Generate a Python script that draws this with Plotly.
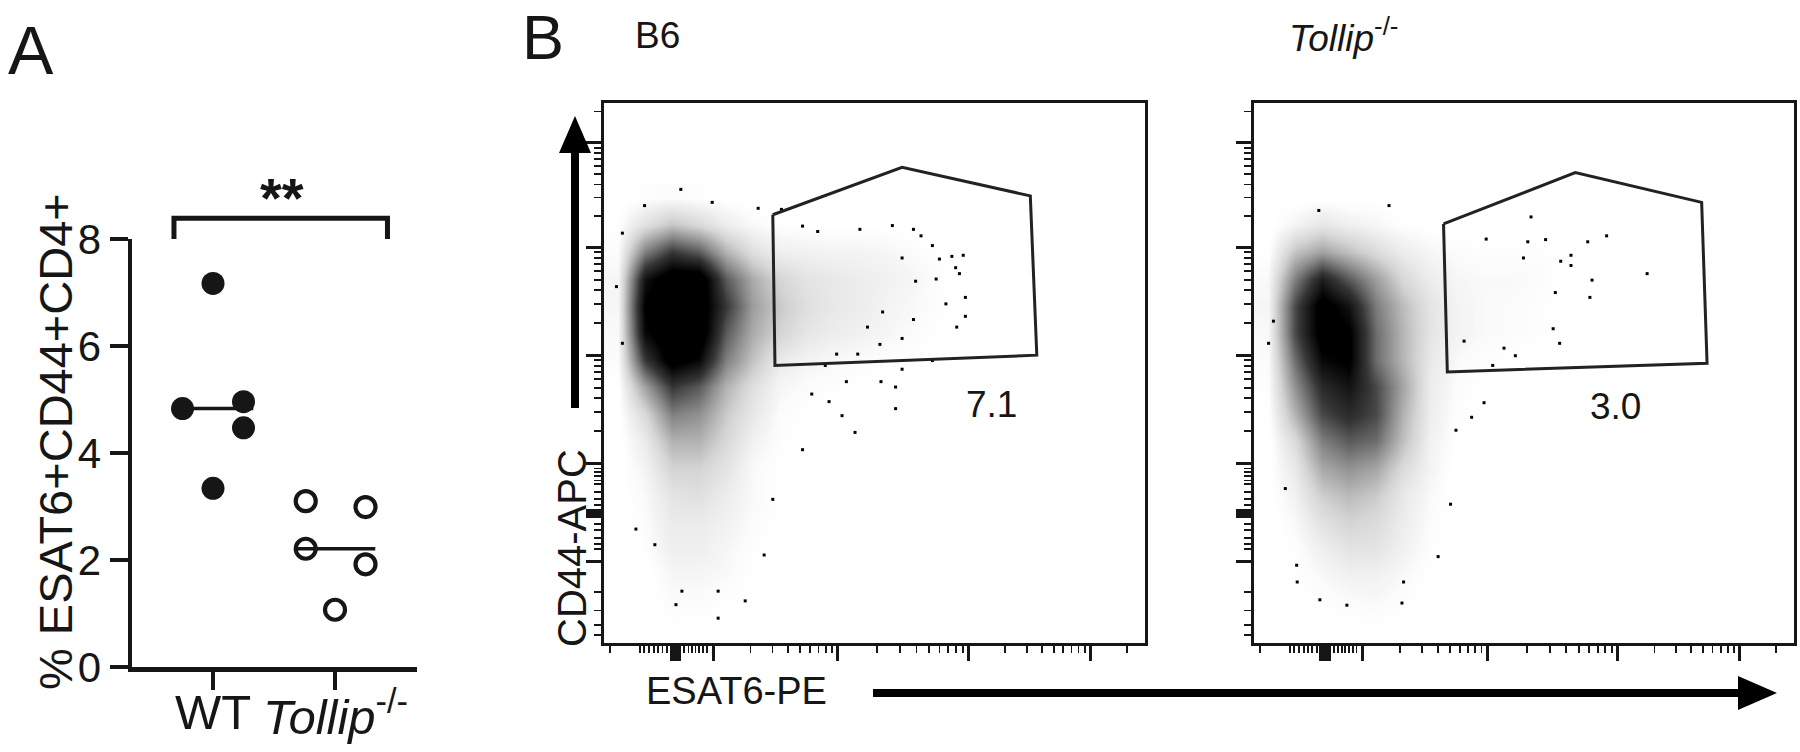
import math
import statistics
import plotly.graph_objects as go

W, H = 1800, 752
INK = "#161616"
FONT = "Liberation Sans, Arial, Helvetica, sans-serif"


def px(x):
    return x / W


def py(y):
    return 1 - y / H


# ---------------- Panel A data ----------------
group_labels = ["WT", "<i>Tollip</i><sup>-/-</sup>"]
group_pos = [1, 2]
wt_values = [7.17, 4.83, 4.96, 4.47, 3.34]
wt_offsets = [0.0, -0.25, 0.25, 0.25, 0.0]
tollip_values = [3.10, 2.99, 2.21, 1.92, 1.07]
tollip_offsets = [-0.24, 0.25, -0.24, 0.25, 0.0]
median_halfwidth = 0.33
sig_text = "**"
sig_pos = (1.566, 8.78)
bracket_x = [0.68, 2.43]
bracket_y = [8.0, 8.39]

# ---------------- Panel B data (display units 0-100 on each axis) ----------------
cell = 5.0
left_density = [
    [0, 0, 0.1, 0.05, 0, 0, 0, 0, 0, 0, 0, 0, 0, 0],
    [0, 0, 0.3, 0.3, 0.15, 0.05, 0, 0, 0, 0, 0, 0, 0, 0],
    [0, 0, 0.5, 0.5, 0.4, 0.1, 0, 0, 0, 0, 0, 0, 0, 0],
    [0, 0.2, 0.8, 0.8, 0.5, 0.2, 0, 0, 0, 0, 0, 0, 0, 0],
    [0, 0.3, 1.0, 1.0, 0.7, 0.3, 0.1, 0, 0, 0, 0, 0, 0, 0],
    [0, 0.4, 1.3, 1.5, 0.9, 0.4, 0.1, 0, 0, 0, 0, 0, 0, 0],
    [0, 0.6, 2.0, 2.0, 1.3, 0.4, 0.1, 0, 0, 0, 0, 0, 0, 0],
    [0, 1.0, 3.0, 3.0, 1.8, 0.7, 0.2, 0.1, 0, 0, 0, 0, 0, 0],
    [0, 1.8, 4.5, 4.0, 2.3, 1.1, 0.3, 0.1, 0, 0, 0, 0, 0, 0],
    [0.1, 3.5, 6.5, 5.5, 3.0, 1.5, 0.5, 0.3, 0.2, 0.1, 0, 0, 0, 0],
    [0.3, 6.5, 9.5, 8.5, 4.5, 2.5, 1.0, 0.6, 0.4, 0.3, 0.2, 0.1, 0, 0],
    [0.4, 8.5, 10, 10, 5.5, 3.2, 2.0, 1.2, 0.9, 0.7, 0.5, 0.3, 0.1, 0],
    [0.5, 9.0, 10, 10, 6.5, 3.6, 2.3, 1.5, 1.1, 0.9, 0.6, 0.4, 0.2, 0],
    [0.5, 8.0, 10, 10, 5.5, 3.2, 1.9, 1.3, 1.1, 0.9, 0.7, 0.5, 0.2, 0],
    [0.3, 4.5, 6.5, 5.5, 3.0, 1.5, 0.8, 0.7, 0.6, 0.6, 0.5, 0.3, 0.1, 0],
    [0.1, 1.5, 2.5, 1.8, 0.9, 0.4, 0.2, 0.1, 0.1, 0.1, 0.1, 0, 0, 0],
    [0, 0.2, 0.3, 0.2, 0.1, 0, 0, 0, 0, 0, 0, 0, 0, 0],
]
right_density = [
    [0, 0, 0, 0.05, 0.05, 0, 0, 0, 0, 0, 0, 0, 0, 0],
    [0, 0, 0.2, 0.3, 0.4, 0.2, 0, 0, 0, 0, 0, 0, 0, 0],
    [0, 0.1, 0.4, 0.7, 0.7, 0.4, 0.1, 0, 0, 0, 0, 0, 0, 0],
    [0, 0.2, 0.8, 1.3, 1.3, 0.7, 0.2, 0, 0, 0, 0, 0, 0, 0],
    [0, 0.4, 1.4, 2.0, 1.7, 0.9, 0.3, 0, 0, 0, 0, 0, 0, 0],
    [0, 0.7, 2.2, 2.8, 2.3, 1.1, 0.4, 0, 0, 0, 0, 0, 0, 0],
    [0, 1.1, 3.3, 4.0, 3.4, 1.7, 0.6, 0, 0, 0, 0, 0, 0, 0],
    [0, 1.7, 4.5, 5.5, 5.0, 2.6, 0.7, 0.1, 0, 0, 0, 0, 0, 0],
    [0.1, 3.0, 6.0, 7.0, 6.0, 3.0, 0.9, 0.2, 0, 0, 0, 0, 0, 0],
    [0.2, 4.0, 7.0, 8.0, 6.0, 3.4, 0.9, 0.3, 0.1, 0, 0, 0, 0, 0],
    [0.3, 5.0, 8.5, 9.0, 5.0, 2.9, 1.1, 0.4, 0.2, 0.1, 0.1, 0, 0, 0],
    [0.4, 6.0, 9.5, 9.0, 5.0, 2.9, 1.3, 0.6, 0.4, 0.3, 0.2, 0.1, 0, 0],
    [0.5, 6.0, 9.5, 8.0, 4.6, 2.7, 1.3, 0.6, 0.4, 0.3, 0.2, 0.1, 0.05, 0],
    [0.4, 4.5, 7.5, 5.5, 3.6, 1.8, 0.9, 0.5, 0.4, 0.4, 0.3, 0.1, 0.05, 0],
    [0.1, 2.5, 3.5, 2.6, 1.7, 0.9, 0.5, 0.3, 0.2, 0.2, 0.2, 0.1, 0, 0],
    [0, 0.6, 1.2, 0.8, 0.5, 0.2, 0.1, 0, 0, 0, 0.05, 0, 0, 0],
    [0, 0, 0.1, 0, 0.1, 0, 0, 0, 0, 0, 0, 0, 0, 0],
]

# isolated events
left_dots_x = [14.2, 20.0, 7.5, 28.5, 32.8, 36.7, 39.5, 47.3, 53.3, 57.2, 58.6, 60.7, 64.3, 66.4,
               62.0, 65.0, 65.7, 66.8, 66.8, 65.2, 63.2, 61.4, 57.6, 55.1, 57.2, 55.1, 51.0, 51.5,
               48.7, 46.9, 43.0, 40.9, 44.8, 51.2, 53.9, 55.1, 60.7, 53.9, 44.0, 46.4, 38.4, 41.6,
               36.7, 31.2, 29.6, 26.1, 21.1, 13.3, 14.4, 21.1, 5.9, 9.4, 3.4, 2.3, 3.4]
left_dots_y = [84.0, 81.6, 81.0, 80.5, 80.3, 77.2, 76.2, 76.6, 77.3, 76.6, 75.4, 73.6, 71.6, 71.8,
               71.1, 69.5, 68.4, 64.0, 60.5, 58.5, 62.8, 67.4, 67.0, 71.3, 59.9, 56.4, 55.3, 61.3,
               58.5, 53.5, 53.5, 51.4, 48.4, 48.4, 47.4, 50.7, 52.3, 43.4, 42.1, 39.0, 46.1, 44.7,
               35.8, 26.6, 16.3, 7.8, 4.6, 7.1, 9.6, 9.6, 21.1, 18.2, 55.5, 66.0, 75.9]
right_dots_x = [25.0, 12.0, 51.3, 65.3, 61.8, 58.7, 56.8, 72.8, 62.6, 62.2, 58.7, 54.0, 50.7, 55.8,
                55.4, 56.6, 48.4, 42.6, 40.3, 37.4, 36.4, 34.1, 27.7, 27.4, 17.2, 12.2, 8.0, 7.9,
                5.8, 2.7, 3.6, 38.9, 44.2, 46.3, 49.9, 43.0]
right_dots_y = [81.0, 80.1, 78.9, 75.4, 74.3, 71.8, 70.7, 68.4, 67.2, 64.0, 69.9, 74.7, 74.3, 64.9,
                58.2, 55.5, 53.2, 44.5, 41.8, 39.4, 25.7, 16.0, 11.3, 7.4, 7.0, 8.0, 11.3, 14.4,
                28.6, 55.5, 59.6, 55.9, 51.4, 54.6, 71.3, 74.8]

# gates
left_gate_x = [31.2, 55.1, 78.8, 80.0, 31.6]
left_gate_y = [79.3, 88.1, 82.8, 53.3, 51.4]
right_gate_x = [35.1, 59.5, 82.9, 83.9, 35.8]
right_gate_y = [77.6, 87.1, 81.6, 51.8, 50.2]
gate_pct = ["7.1", "3.0"]
gate_pct_pos = [(71.7, 44.1), (67.0, 43.8)]
plot_titles = ["B6", "<i>Tollip</i><sup>-/-</sup>"]

# logicle-like axis tick positions (display units)
x_decades = [20.15, 43.2, 67.4, 89.9]
x_zero_block = [12.4, 12.8, 13.2, 13.6, 14.0]
x_linear_ticks = [1.1, 6.7, 7.4, 8.3, 9.2, 10.0, 10.8, 11.6, 14.8, 15.6, 16.3, 16.9, 17.6, 18.3, 19.0]
y_decades = [33.2, 53.3, 73.3, 92.6]
y_extra_major = [15.1]
y_zero_block = [23.4, 23.8, 24.2, 24.6]
y_linear_ticks = [1.5, 3.4, 6.0, 9.5, 17.4, 18.4, 19.5, 20.9, 22.0, 25.5, 26.6, 28.0, 29.4,
                  30.1, 30.9, 31.6, 32.3]


def log_minors(decades):
    out = []
    for i, d in enumerate(decades):
        step = (decades[i + 1] - d) if i + 1 < len(decades) else (d - decades[i - 1])
        for m in range(2, 10):
            v = d + math.log10(m) * step
            if v < 100:
                out.append(v)
    return out


x_major = x_zero_block + x_decades
x_minor = x_linear_ticks + log_minors(x_decades)
y_major = y_extra_major + y_zero_block + y_decades
y_minor = y_linear_ticks + log_minors(y_decades)

# ---------------- layout geometry ----------------
A_x = [px(132), px(417)]
A_y = [py(667), py(239)]
A_xrange = [0.336, 2.672]
A_yrange = [0, 8]
L_x = [px(604), px(1145)]
R_x = [px(1254), px(1794)]
B_y = [py(643), py(103)]


def a_xpaper(v):
    return A_x[0] + (v - A_xrange[0]) / (A_xrange[1] - A_xrange[0]) * (A_x[1] - A_x[0])


def a_ypaper(v):
    return A_y[0] + (v - A_yrange[0]) / (A_yrange[1] - A_yrange[0]) * (A_y[1] - A_y[0])


fig = go.Figure()

# Panel A: medians then points
for gi, vals in enumerate([wt_values, tollip_values]):
    med = statistics.median(vals)
    fig.add_trace(go.Scatter(x=[group_pos[gi] - median_halfwidth, group_pos[gi] + median_halfwidth],
                             y=[med, med], mode="lines", line=dict(color=INK, width=3.5),
                             xaxis="x", yaxis="y", showlegend=False, hoverinfo="skip"))
fig.add_trace(go.Scatter(x=[group_pos[0] + o for o in wt_offsets], y=wt_values, mode="markers",
                         marker=dict(symbol="circle", size=23, color=INK, line=dict(width=0)),
                         xaxis="x", yaxis="y", showlegend=False, cliponaxis=False))
fig.add_trace(go.Scatter(x=[group_pos[1] + o for o in tollip_offsets], y=tollip_values, mode="markers",
                         marker=dict(symbol="circle-open", size=20, color=INK, line=dict(width=4.2, color=INK)),
                         xaxis="x", yaxis="y", showlegend=False, cliponaxis=False))

gray_scale = [[0, "rgba(255,255,255,0)"], [0.05, "#f6f6f6"], [0.2, "#d4d4d4"],
              [0.42, "#8a8a8a"], [0.65, "#363636"], [0.88, "#000000"], [1, "#000000"]]

# Panel B: density, dots and gates
for dens, dx, dy, gx, gy, xa, ya in [
    (left_density, left_dots_x, left_dots_y, left_gate_x, left_gate_y, "x2", "y2"),
    (right_density, right_dots_x, right_dots_y, right_gate_x, right_gate_y, "x3", "y3"),
]:
    ncol = len(dens[0])
    nrow = len(dens)
    fig.add_trace(go.Heatmap(
        z=dens, x=[cell * (i + 0.5) for i in range(ncol)], y=[cell * (j + 0.5) for j in range(nrow)],
        zmin=0, zmax=10, zsmooth="best", showscale=False, hoverinfo="skip",
        colorscale=gray_scale, xaxis=xa, yaxis=ya))
    fig.add_trace(go.Scatter(x=dx, y=dy, mode="markers",
                             marker=dict(symbol="square", size=3, color="#000"),
                             xaxis=xa, yaxis=ya, showlegend=False, hoverinfo="skip"))
    fig.add_trace(go.Scatter(x=gx + gx[:1], y=gy + gy[:1], mode="lines",
                             line=dict(color="#222", width=3),
                             xaxis=xa, yaxis=ya, showlegend=False, hoverinfo="skip"))


def flow_axis(domain, anchor, major, minor):
    return dict(domain=domain, anchor=anchor, range=[0, 100], showgrid=False, zeroline=False,
                showline=True, mirror=True, linecolor=INK, linewidth=2.6, automargin=False,
                ticks="outside", tickmode="array", tickvals=major, ticklen=15, tickwidth=3,
                tickcolor=INK, showticklabels=False, fixedrange=True,
                minor=dict(ticks="outside", tickmode="array", tickvals=minor, ticklen=7,
                           tickwidth=1.8, tickcolor=INK, showgrid=False))


fig.update_layout(
    width=W, height=H, margin=dict(l=0, r=0, t=0, b=0, pad=0, autoexpand=False),
    paper_bgcolor="white", plot_bgcolor="rgba(0,0,0,0)",
    font=dict(family=FONT, color=INK),
    showlegend=False,
    xaxis=dict(domain=A_x, anchor="y", range=A_xrange, showgrid=False, zeroline=False, automargin=False,
               showline=True, linecolor=INK, linewidth=4.5, ticks="outside", ticklen=18, tickwidth=4.5,
               tickcolor=INK, tickmode="array", tickvals=group_pos, showticklabels=False),
    yaxis=dict(domain=A_y, anchor="x", range=A_yrange, showgrid=False, zeroline=False, automargin=False,
               showline=True, linecolor=INK, linewidth=4.5, ticks="outside", ticklen=18, tickwidth=4.5,
               tickcolor=INK, tickmode="array", tickvals=[0, 2, 4, 6, 8],
               tickfont=dict(size=42, family=FONT, color=INK)),
    xaxis2=flow_axis(L_x, "y2", x_major, x_minor),
    yaxis2=flow_axis(B_y, "x2", y_major, y_minor),
    xaxis3=flow_axis(R_x, "y3", x_major, x_minor),
    yaxis3=flow_axis(B_y, "x3", y_major, y_minor),
)

shapes = []
# significance bracket
bx0, bx1 = a_xpaper(bracket_x[0]), a_xpaper(bracket_x[1])
by0, by1 = a_ypaper(bracket_y[0]), a_ypaper(bracket_y[1])
shapes.append(dict(type="path", xref="paper", yref="paper",
                   path=f"M {bx0},{by0} L {bx0},{by1} L {bx1},{by1} L {bx1},{by0}",
                   line=dict(color=INK, width=5)))
# axis direction arrows
shapes.append(dict(type="line", xref="paper", yref="paper", x0=px(575), x1=px(575), y0=py(408), y1=py(150),
                   line=dict(color="#000", width=8)))
shapes.append(dict(type="path", xref="paper", yref="paper",
                   path=f"M {px(559)},{py(153)} L {px(591)},{py(153)} L {px(575)},{py(116)} Z",
                   fillcolor="#000", line=dict(width=0)))
shapes.append(dict(type="line", xref="paper", yref="paper", x0=px(873), x1=px(1742), y0=py(693), y1=py(693),
                   line=dict(color="#000", width=8)))
shapes.append(dict(type="path", xref="paper", yref="paper",
                   path=f"M {px(1738)},{py(676)} L {px(1738)},{py(710)} L {px(1777)},{py(693)} Z",
                   fillcolor="#000", line=dict(width=0)))
fig.update_layout(shapes=shapes)

ann = [
    dict(text="A", x=px(31), y=py(50), font=dict(size=68)),
    dict(text="B", x=px(543), y=1.0, yanchor="top", font=dict(size=63)),
    dict(text=plot_titles[0], x=px(657), y=py(36), font=dict(size=37)),
    dict(text=plot_titles[1], x=px(1343), y=py(36), font=dict(size=37)),
    dict(text="% ESAT6+CD44+CD4+", x=px(55), y=py(442), textangle=-90, font=dict(size=47)),
    dict(text="CD44-APC", x=px(572), y=py(548), textangle=-90, font=dict(size=40)),
    dict(text="ESAT6-PE", x=px(736), y=py(691), font=dict(size=38)),
    dict(text=f"<b>{sig_text}</b>", x=a_xpaper(sig_pos[0]), y=a_ypaper(sig_pos[1]), font=dict(size=56)),
    dict(text=group_labels[0], x=a_xpaper(group_pos[0]), y=py(712), font=dict(size=49)),
    dict(text=group_labels[1], x=a_xpaper(group_pos[1]), y=py(713), font=dict(size=49)),
]
for a in ann:
    a.setdefault("yanchor", "middle")
    a.update(xref="paper", yref="paper", showarrow=False, xanchor="center")
for (txt, (tx, ty), xa, ya) in zip(gate_pct, gate_pct_pos, ["x2", "x3"], ["y2", "y3"]):
    ann.append(dict(text=txt, x=tx, y=ty, xref=xa, yref=ya, showarrow=False,
                    font=dict(size=37), xanchor="center", yanchor="middle"))
fig.update_layout(annotations=ann)

fig.write_html("out.html", config={"displayModeBar": False, "staticPlot": True},
               post_script="document.body.style.margin='0';document.body.style.overflow='hidden';")
